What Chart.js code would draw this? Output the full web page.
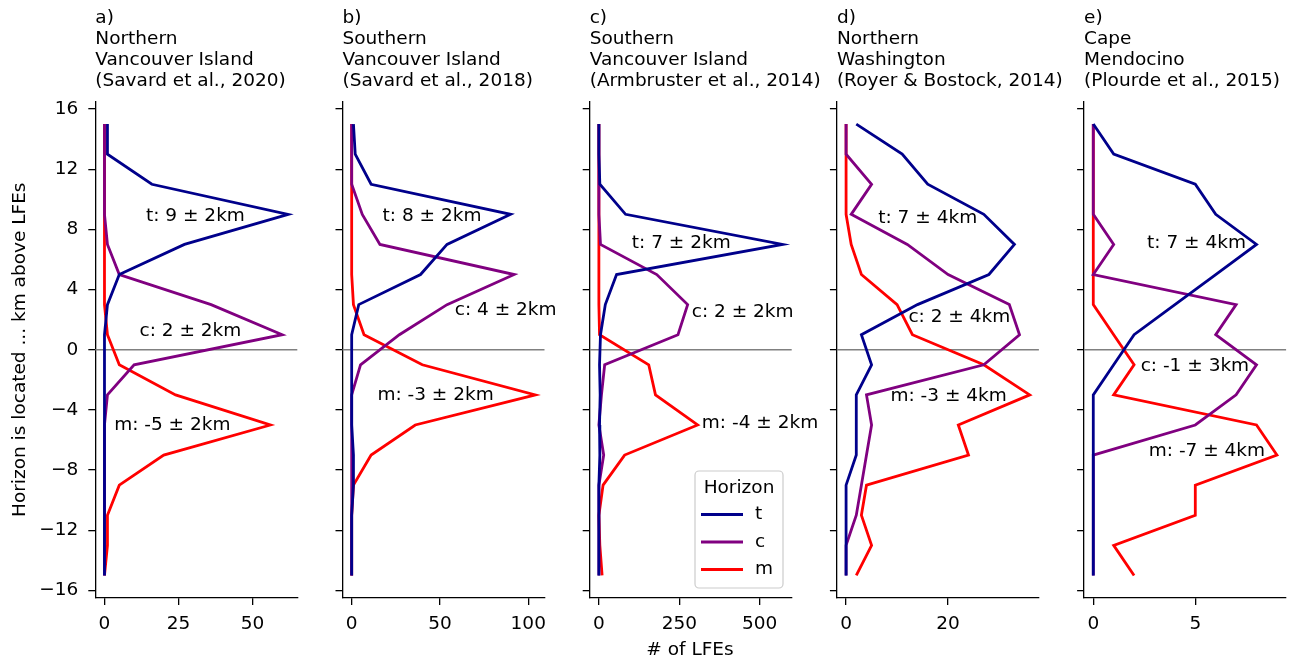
<!DOCTYPE html>
<html><head><meta charset="utf-8">
<script src="https://cdn.jsdelivr.net/npm/chart.js@4.4.0/dist/chart.umd.min.js"></script>
<style>
html,body{margin:0;padding:0;background:#fff;width:1295px;height:661px;overflow:hidden}
canvas{position:absolute;left:0;top:0}
</style></head><body>
<canvas id="p0" width="1295" height="661"></canvas>
<canvas id="p1" width="1295" height="661"></canvas>
<canvas id="p2" width="1295" height="661"></canvas>
<canvas id="p3" width="1295" height="661"></canvas>
<canvas id="p4" width="1295" height="661"></canvas>
<script>
// ---------------- data ----------------
const depths = [15, 13, 11, 9, 7, 5, 3, 1, -1, -3, -5, -7, -9, -11, -13, -15];
const horizons = ['t', 'c', 'm'];

const panelLetters = ['a)', 'b)', 'c)', 'd)', 'e)'];
const panelTitles = [
  ['Northern', 'Vancouver Island', '(Savard et al., 2020)'],
  ['Southern', 'Vancouver Island', '(Savard et al., 2018)'],
  ['Southern', 'Vancouver Island', '(Armbruster et al., 2014)'],
  ['Northern', 'Washington', '(Royer & Bostock, 2014)'],
  ['Cape', 'Mendocino', '(Plourde et al., 2015)']
];

// a) Northern Vancouver Island
const tA = [1, 1, 16, 62, 27, 5, 1, 0, 0, 0, 0, 0, 0, 0, 0, 0];
const cA = [0, 0, 0, 0, 1, 5, 36, 60, 10, 1, 0, 0, 0, 0, 0, 0];
const mA = [0, 0, 0, 0, 0, 0, 0, 1, 5, 24, 56, 20, 5, 1, 1, 0];
// b) Southern Vancouver Island (2018)
const tB = [1, 2, 11, 90, 54, 39, 4, 0, 0, 0, 0, 1, 1, 0, 0, 0];
const cB = [0, 0, 0, 6, 16, 92, 54, 27, 5, 0, 0, 0, 0, 0, 0, 0];
const mB = [0, 0, 0, 0, 0, 0, 1, 7, 40, 104, 36, 11, 1, 0, 0, 0];
// c) Southern Vancouver Island (2014)
const tC = [0, 0, 3, 83, 571, 55, 20, 5, 2, 4, 2, 3, 0, 0, 0, 0];
const cC = [0, 0, 0, 0, 5, 180, 276, 246, 18, 8, 0, 15, 0, 0, 0, 0];
const mC = [0, 0, 0, 0, 0, 0, 0, 2, 155, 176, 307, 80, 13, 0, 3, 10];
// d) Northern Washington
const tD = [2, 11, 16, 27, 33, 28, 14, 3, 5, 2, 2, 2, 0, 0, 0, 0];
const cD = [0, 0, 5, 1, 12, 20, 32, 34, 27, 4, 5, 4, 3, 2, 0, 0];
const mD = [0, 0, 0, 0, 1, 3, 10, 13, 27, 36, 22, 24, 4, 3, 5, 2];
// e) Cape Mendocino
const tE = [0, 1, 5, 6, 8, 6, 4, 2, 1, 0, 0, 0, 0, 0, 0, 0];
const cE = [0, 0, 0, 0, 1, 0, 7, 6, 8, 7, 5, 0, 0, 0, 0, 0];
const mE = [0, 0, 0, 0, 0, 0, 0, 1, 2, 1, 8, 9, 5, 5, 1, 2];

const yTicks = [-16, -12, -8, -4, 0, 4, 8, 12, 16];
const xTicksA = [0, 25, 50];
const xTicksB = [0, 50, 100];
const xTicksC = [0, 250, 500];
const xTicksD = [0, 20];
const xTicksE = [0, 5];

const annTextA = ['t: 9 ± 2km', 'c: 2 ± 2km', 'm: -5 ± 2km'];
const annTextB = ['t: 8 ± 2km', 'c: 4 ± 2km', 'm: -3 ± 2km'];
const annTextC = ['t: 7 ± 2km', 'c: 2 ± 2km', 'm: -4 ± 2km'];
const annTextD = ['t: 7 ± 4km', 'c: 2 ± 4km', 'm: -3 ± 4km'];
const annTextE = ['t: 7 ± 4km', 'c: -1 ± 3km', 'm: -7 ± 4km'];

// annotation anchor points (data coordinates: x = # of LFEs, y = km)
const annPosA = [[30.7, 8.87], [29, 1.26], [22.9, -5.0]];
const annPosB = [[45.5, 8.87], [87.2, 2.66], [47.5, -3.0]];
const annPosC = [[256, 7.1], [447, 2.48], [501, -4.88]];
const annPosD = [[16.0, 8.76], [22.2, 2.17], [20.1, -3.06]];
const annPosE = [[5.06, 7.05], [4.98, -1.06], [5.57, -6.77]];

const yTitle = 'Horizon is located ... km above LFEs';
const xTitle = '# of LFEs';
const legendTitle = 'Horizon';

// ---------------- style / layout ----------------
const FONT = '"DejaVu Sans", "Liberation Sans", sans-serif';
const FS = 18.5;
const colors = ['#00008B', '#800080', '#FF0000'];
const W = 1295, H = 661;
const LEFT0 = 95.3, STEP = 247.2, PW = 202;
const TOP = 101.5, BOTTOM = 598;
const YAXW = 70, XAXH = 45;
const LW = 2.8;

const panels = [
  {vals: [tA, cA, mA], xt: xTicksA, ann: annTextA, pos: annPosA},
  {vals: [tB, cB, mB], xt: xTicksB, ann: annTextB, pos: annPosB},
  {vals: [tC, cC, mC], xt: xTicksC, ann: annTextC, pos: annPosC},
  {vals: [tD, cD, mD], xt: xTicksD, ann: annTextD, pos: annPosD},
  {vals: [tE, cE, mE], xt: xTicksE, ann: annTextE, pos: annPosE}
];

function makePlugin(k, p) {
  return {
    id: 'panel' + k,
    beforeDatasetsDraw(chart) {
      const ctx = chart.ctx, a = chart.chartArea, ys = chart.scales.y;
      const y0 = ys.getPixelForValue(0);
      ctx.save();
      ctx.strokeStyle = '#808080';
      ctx.lineWidth = 1.3;
      ctx.beginPath();
      ctx.moveTo(a.left, y0);
      ctx.lineTo(a.right, y0);
      ctx.stroke();
      ctx.restore();
    },
    afterDatasetsDraw(chart) {
      const ctx = chart.ctx, xs = chart.scales.x, ys = chart.scales.y, a = chart.chartArea;
      ctx.save();
      ctx.fillStyle = '#000';
      ctx.font = FS + 'px ' + FONT;
      ctx.textAlign = 'center';
      ctx.textBaseline = 'middle';
      p.ann.forEach((t, i) => {
        ctx.fillText(t, xs.getPixelForValue(p.pos[i][0]), ys.getPixelForValue(p.pos[i][1]));
      });
      // panel title, left aligned to axes
      ctx.textAlign = 'left';
      const lines = [panelLetters[k]].concat(panelTitles[k]);
      const lh = 21;
      lines.forEach((t, i) => {
        ctx.fillText(t, a.left, a.top - 20.5 - (lines.length - 1 - i) * lh);
      });
      if (k === 0) {
        ctx.save();
        ctx.translate(20, (TOP + BOTTOM) / 2);
        ctx.rotate(-Math.PI / 2);
        ctx.textAlign = 'center';
        ctx.fillText(yTitle, 0, 0);
        ctx.restore();
      }
      if (k === 2) {
        ctx.textAlign = 'center';
        ctx.fillText(xTitle, 690, 650);
        // legend
        const bx = 695, by = 471, bw = 88, bh = 117, r = 4;
        ctx.save();
        ctx.fillStyle = 'rgba(255,255,255,0.8)';
        ctx.strokeStyle = '#cccccc';
        ctx.lineWidth = 1.2;
        ctx.beginPath();
        ctx.moveTo(bx + r, by);
        ctx.arcTo(bx + bw, by, bx + bw, by + bh, r);
        ctx.arcTo(bx + bw, by + bh, bx, by + bh, r);
        ctx.arcTo(bx, by + bh, bx, by, r);
        ctx.arcTo(bx, by, bx + bw, by, r);
        ctx.closePath();
        ctx.fill();
        ctx.stroke();
        ctx.restore();
        ctx.fillStyle = '#000';
        ctx.textAlign = 'center';
        ctx.fillText(legendTitle, bx + bw / 2, 488);
        chart.data.datasets.forEach((ds, i) => {
          const yy = 514.5 + i * 27.5;
          ctx.strokeStyle = ds.borderColor;
          ctx.lineWidth = LW;
          ctx.beginPath();
          ctx.moveTo(701, yy);
          ctx.lineTo(743, yy);
          ctx.stroke();
          ctx.fillStyle = '#000';
          ctx.textAlign = 'left';
          ctx.fillText(ds.label, 755, yy);
        });
      }
      ctx.restore();
    }
  };
}

panels.forEach((p, k) => {
  const mx = Math.max(...p.vals.flat());
  const L = LEFT0 + STEP * k;
  const cfg = {
    type: 'scatter',
    data: {
      datasets: horizons.map((h, i) => ({
        label: h,
        data: depths.map((d, j) => ({x: p.vals[i][j], y: d})),
        showLine: true,
        borderColor: colors[i],
        backgroundColor: colors[i],
        borderWidth: LW,
        pointRadius: 0,
        pointHoverRadius: 0,
        tension: 0,
        borderJoinStyle: 'miter'
      }))
    },
    options: {
      responsive: false,
      animation: false,
      events: [],
      devicePixelRatio: 1,
      layout: {padding: {left: L - YAXW, right: W - (L + PW), top: TOP, bottom: H - BOTTOM - XAXH}},
      plugins: {legend: {display: false}, tooltip: {enabled: false}, title: {display: false}},
      scales: {
        x: {
          type: 'linear',
          min: -0.05 * mx,
          max: 1.05 * mx,
          afterBuildTicks: s => { s.ticks = p.xt.map(v => ({value: v})); },
          afterFit: s => { s.height = XAXH; },
          grid: {display: true, drawOnChartArea: false, drawTicks: true, tickLength: 7, color: '#000', lineWidth: 1.3},
          border: {display: true, color: '#000', width: 1.3},
          ticks: {color: '#000', font: {family: FONT, size: FS}, padding: 8.5, maxRotation: 0, autoSkip: false}
        },
        y: {
          type: 'linear',
          min: -16.5,
          max: 16.5,
          afterBuildTicks: s => { s.ticks = yTicks.map(v => ({value: v})); },
          afterFit: s => { s.width = YAXW; },
          grid: {display: true, drawOnChartArea: false, drawTicks: true, tickLength: 7, color: '#000', lineWidth: 1.3},
          border: {display: true, color: '#000', width: 1.3},
          ticks: {display: k === 0, color: '#000', font: {family: FONT, size: FS}, padding: 10, autoSkip: false,
                  callback: v => (v < 0 ? '\u2212' + Math.abs(v) : String(v))}
        }
      }
    },
    plugins: [makePlugin(k, p)]
  };
  new Chart(document.getElementById('p' + k), cfg);
});
</script>
</body></html>
